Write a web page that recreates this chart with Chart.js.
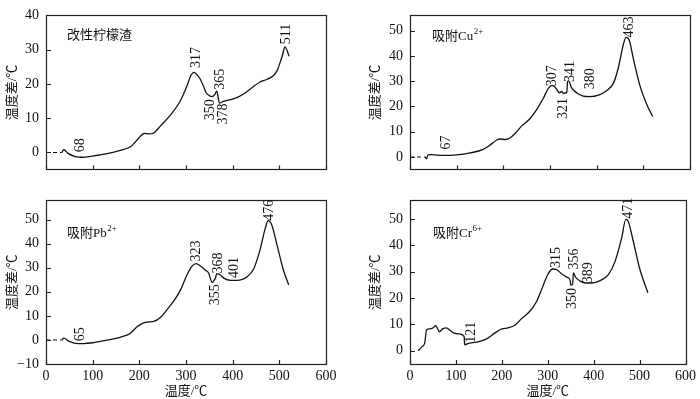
<!DOCTYPE html>
<html>
<head>
<meta charset="utf-8">
<script src="https://cdn.jsdelivr.net/npm/chart.js@4.4.0/dist/chart.umd.min.js"></script>
<style>
  html, body { margin: 0; padding: 0; background: #fff; }
  #wrap { position: relative; width: 700px; height: 399px; overflow: hidden; }
  canvas { position: absolute; }
</style>
</head>
<body>
<div id="wrap">
  <canvas id="c1" width="350" height="185" style="left:0;top:0"></canvas>
  <canvas id="c2" width="350" height="185" style="left:350px;top:0"></canvas>
  <canvas id="c3" width="350" height="214" style="left:0;top:185px"></canvas>
  <canvas id="c4" width="350" height="214" style="left:350px;top:185px"></canvas>
</div>
<script>
// ---- data (temperature °C, temperature difference °C) ----
const xTicks = [0, 100, 200, 300, 400, 500, 600];

// 改性柠檬渣
const lemonDashT = [0, 34];
const lemonDashV = [0, 0];
const lemonT = [34, 38, 48, 63, 77, 102, 131, 159, 181, 191, 202, 211, 220, 231, 245, 266, 288, 302, 311, 317, 323, 330, 337, 343, 350, 356, 361, 366, 369, 371.5, 380, 395, 409, 425, 444, 458, 473, 487, 495, 501, 507, 512, 521];
const lemonV = [0, 0.8, -0.35, -1.2, -1.4, -1.0, -0.35, 0.6, 1.65, 3.0, 4.7, 5.6, 5.4, 5.7, 7.7, 10.8, 15.1, 19.4, 22.6, 23.4, 22.8, 21.5, 19.5, 17.5, 16.6, 16.3, 16.8, 17.9, 16.1, 14.4, 14.9, 15.4, 16.0, 17.2, 19.2, 20.5, 21.3, 22.4, 23.8, 26.0, 28.5, 30.8, 28.1];
const lemonYTicks = [0, 10, 20, 30, 40];
const lemonLabels = ['68', '317', '365', '350', '378', '511'];
const lemonLabelT = [73, 323, 374, 353, 381, 514];
const lemonLabelV = [2.1, 27.7, 21.4, 12.5, 11.2, 34.6];

// 吸附Cu2+
const cuDashT = [0, 32];
const cuDashV = [0, 0];
const cuT = [32, 35.5, 38.5, 46, 71, 100, 129, 157, 171, 186, 193, 204, 214, 225, 239, 257, 271, 286, 296, 304, 309, 314, 320, 325, 329, 333, 336, 337.5, 340, 346, 357, 371, 386, 404, 421, 436, 446, 457, 463, 470, 479, 493, 507, 520];
const cuV = [0, -0.7, 0.8, 0.9, 0.6, 0.8, 1.6, 3.0, 4.6, 6.7, 7.1, 6.9, 7.5, 9.3, 12.2, 15.1, 18.6, 23.3, 27.0, 28.2, 28.0, 26.8, 25.4, 25.9, 25.1, 25.4, 25.3, 29.7, 30.1, 27.4, 25.4, 24.1, 23.9, 24.5, 26.2, 29.2, 35.0, 44.4, 47.3, 46.1, 38.5, 28.0, 21.0, 16.0];
const cuYTicks = [0, 10, 20, 30, 40, 50];
const cuLabels = ['67', '307', '341', '321', '380', '463'];
const cuLabelT = [77, 305, 343, 328.5, 386, 471];
const cuLabelV = [5.7, 32.1, 33.8, 19.2, 30.9, 51.4];

// 吸附Pb2+
const pbDashT = [0, 34];
const pbDashV = [0, 0];
const pbT = [34, 38, 48.6, 63, 81, 102, 131, 159, 181, 195, 206, 216, 231, 245, 259, 274, 288, 302, 313, 322, 331, 341, 349, 352, 356, 359, 363, 366, 372, 381, 395, 409, 431, 445, 458, 470, 476, 484, 495, 508, 520];
const pbV = [0, 0.75, -0.5, -1.4, -1.5, -1.1, -0.1, 1.1, 2.8, 5.5, 6.8, 7.4, 7.7, 9.3, 12.5, 16.2, 20.7, 27.0, 30.7, 31.7, 30.7, 29.1, 27.6, 25.7, 23.8, 24.4, 25.7, 27.6, 27.2, 25.7, 24.8, 24.8, 26.3, 29.5, 37.0, 46.5, 49.6, 47.7, 39.5, 29.5, 22.9];
const pbYTicks = [-10, 0, 10, 20, 30, 40, 50];
const pbLabels = ['65', '323', '368', '401', '355', '476'];
const pbLabelT = [74, 323, 370, 404.5, 362, 478];
const pbLabelV = [2.4, 37.0, 32.0, 30.1, 18.8, 53.9];

// 吸附Cr6+
const crT = [18, 25, 32, 36, 43, 50, 56, 61, 64, 71, 79, 89, 96, 107, 118, 119, 129, 150, 168, 186, 200, 214, 229, 243, 261, 275, 289, 300, 311, 320, 332, 343, 349, 350, 354, 356, 361, 371, 382, 396, 414, 432, 446, 461, 470, 475, 486, 500, 518];
const crV = [0, 1.4, 2.9, 7.9, 8.3, 8.7, 9.5, 8.1, 7.2, 8.3, 8.7, 7.5, 6.7, 6.4, 5.4, 2.3, 2.9, 3.5, 4.6, 6.9, 8.3, 8.7, 9.8, 12.2, 15.0, 18.5, 24.3, 28.9, 31.0, 30.7, 28.9, 27.8, 26.6, 24.9, 25.2, 29.5, 27.8, 26.4, 25.7, 25.7, 26.6, 28.9, 33.6, 42.8, 49.8, 49.2, 41.7, 31.3, 22.0];
const crYTicks = [0, 10, 20, 30, 40, 50];
const crLabels = ['121', '315', '356', '389', '350', '471'];
const crLabelT = [134, 318, 357, 389, 354, 475];
const crLabelV = [7.0, 35.4, 34.8, 29.6, 19.8, 54.0];

const FONT = "'Liberation Serif', 'Noto Sans CJK SC', serif";
const INK = '#111';
Chart.defaults.font.family = FONT;
Chart.defaults.font.size = 13;
Chart.defaults.color = INK;

// frame, inward ticks, panel name and rotated peak labels
const decoPlugin = {
    id: 'deco',
    afterDraw(chart, args, o) {
        const ctx = chart.ctx, a = chart.chartArea;
        const xs = chart.scales.x, ys = chart.scales.y;
        ctx.save();
        ctx.strokeStyle = '#222';
        ctx.lineWidth = 1.2;
        ctx.strokeRect(Math.round(a.left) + 0.5, Math.round(a.top) + 0.5,
            Math.round(a.right - a.left), Math.round(a.bottom - a.top));
        ctx.beginPath();
        xTicks.forEach(v => {
            const px = Math.round(xs.getPixelForValue(v)) + 0.5;
            ctx.moveTo(px, a.bottom);
            ctx.lineTo(px, a.bottom - 4);
        });
        o.yTicks.forEach(v => {
            const py = Math.round(ys.getPixelForValue(v)) + 0.5;
            ctx.moveTo(a.left, py);
            ctx.lineTo(a.left + 5, py);
        });
        ctx.stroke();

        ctx.fillStyle = INK;
        ctx.textBaseline = 'middle';
        ctx.textAlign = 'left';
        ctx.font = '13px ' + FONT;
        let x = a.left + o.titleDx;
        const y = a.top + o.titleDy;
        ctx.fillText(o.title, x, y);
        if (o.sup) {
            x += ctx.measureText(o.title).width + 0.5;
            ctx.font = '9px ' + FONT;
            ctx.fillText(o.sup, x, y - 5);
        }

        ctx.font = '14px ' + FONT;
        ctx.textAlign = 'center';
        o.labels.forEach((s, i) => {
            ctx.save();
            ctx.translate(xs.getPixelForValue(o.labelT[i]), ys.getPixelForValue(o.labelV[i]));
            ctx.rotate(-Math.PI / 2);
            ctx.fillText(s, 0, 0);
            ctx.restore();
        });
        ctx.restore();
    }
};

function pts(ts, vs) {
    return ts.map((t, i) => ({ x: t, y: vs[i] }));
}

function makePanel(id, p) {
    const datasets = [];
    if (p.dashT) {
        datasets.push({
            data: pts(p.dashT, p.dashV), borderColor: INK, borderWidth: 1.1,
            borderDash: [4, 3], pointRadius: 0, fill: false
        });
    }
    datasets.push({
        data: pts(p.T, p.V), borderColor: INK, borderWidth: 1.3,
        pointRadius: 0, fill: false, cubicInterpolationMode: 'monotone'
    });

    return new Chart(document.getElementById(id), {
        type: 'line',
        data: { datasets: datasets },
        plugins: [decoPlugin],
        options: {
            responsive: false,
            animation: false,
            devicePixelRatio: 1,
            layout: { padding: { top: p.padTop, right: p.padRight, left: 0, bottom: 0 } },
            plugins: {
                legend: { display: false },
                tooltip: { enabled: false },
                deco: {
                    yTicks: p.yTicks, title: p.title, sup: p.sup,
                    titleDx: p.titleDx, titleDy: p.titleDy,
                    labels: p.labels, labelT: p.labelT, labelV: p.labelV
                }
            },
            scales: {
                x: {
                    type: 'linear', min: 0, max: 600,
                    afterBuildTicks: s => { s.ticks = xTicks.map(v => ({ value: v })); },
                    ticks: { display: p.showX, padding: 4, maxRotation: 0, font: { size: 14 } },
                    grid: { display: false, drawTicks: false },
                    border: { display: false },
                    title: { display: p.showX, text: '温度/℃', padding: { top: 0, bottom: 0 } },
                    afterFit: s => { s.height = p.xHeight; }
                },
                y: {
                    type: 'linear', min: p.yMin, max: p.yMax,
                    afterBuildTicks: s => { s.ticks = p.yTicks.map(v => ({ value: v })); },
                    ticks: { padding: 7, font: { size: 14 }, callback: v => String(v).replace('-', '−') },
                    grid: { display: false, drawTicks: false },
                    border: { display: false },
                    title: { display: true, text: '温度差/℃', padding: { top: p.yTitlePad, bottom: 0 } },
                    afterFit: s => { s.width = p.yWidth; }
                }
            }
        }
    });
}

makePanel('c1', {
    dashT: lemonDashT, dashV: lemonDashV, T: lemonT, V: lemonV,
    yMin: -5, yMax: 40, yTicks: lemonYTicks,
    labels: lemonLabels, labelT: lemonLabelT, labelV: lemonLabelV,
    title: '改性柠檬渣', sup: '', titleDx: 21, titleDy: 20,
    padTop: 4, padRight: 24, yWidth: 46, yTitlePad: 5, xHeight: 8, showX: false
});
makePanel('c2', {
    dashT: cuDashT, dashV: cuDashV, T: cuT, V: cuV,
    yMin: -5, yMax: 56, yTicks: cuYTicks,
    labels: cuLabels, labelT: cuLabelT, labelV: cuLabelV,
    title: '吸附Cu', sup: '2+', titleDx: 22, titleDy: 21,
    padTop: 4, padRight: 10, yWidth: 60, yTitlePad: 18, xHeight: 8, showX: false
});
makePanel('c3', {
    dashT: pbDashT, dashV: pbDashV, T: pbT, V: pbV,
    yMin: -10, yMax: 58, yTicks: pbYTicks,
    labels: pbLabels, labelT: pbLabelT, labelV: pbLabelV,
    title: '吸附Pb', sup: '2+', titleDx: 21, titleDy: 33,
    padTop: 0, padRight: 24, yWidth: 46, yTitlePad: 5, xHeight: 35, showX: true
});
makePanel('c4', {
    T: crT, V: crV,
    yMin: -5, yMax: 57, yTicks: crYTicks,
    labels: crLabels, labelT: crLabelT, labelV: crLabelV,
    title: '吸附Cr', sup: '6+', titleDx: 23, titleDy: 33,
    padTop: 0, padRight: 10, yWidth: 60, yTitlePad: 18, xHeight: 35, showX: true
});
</script>
</body>
</html>
